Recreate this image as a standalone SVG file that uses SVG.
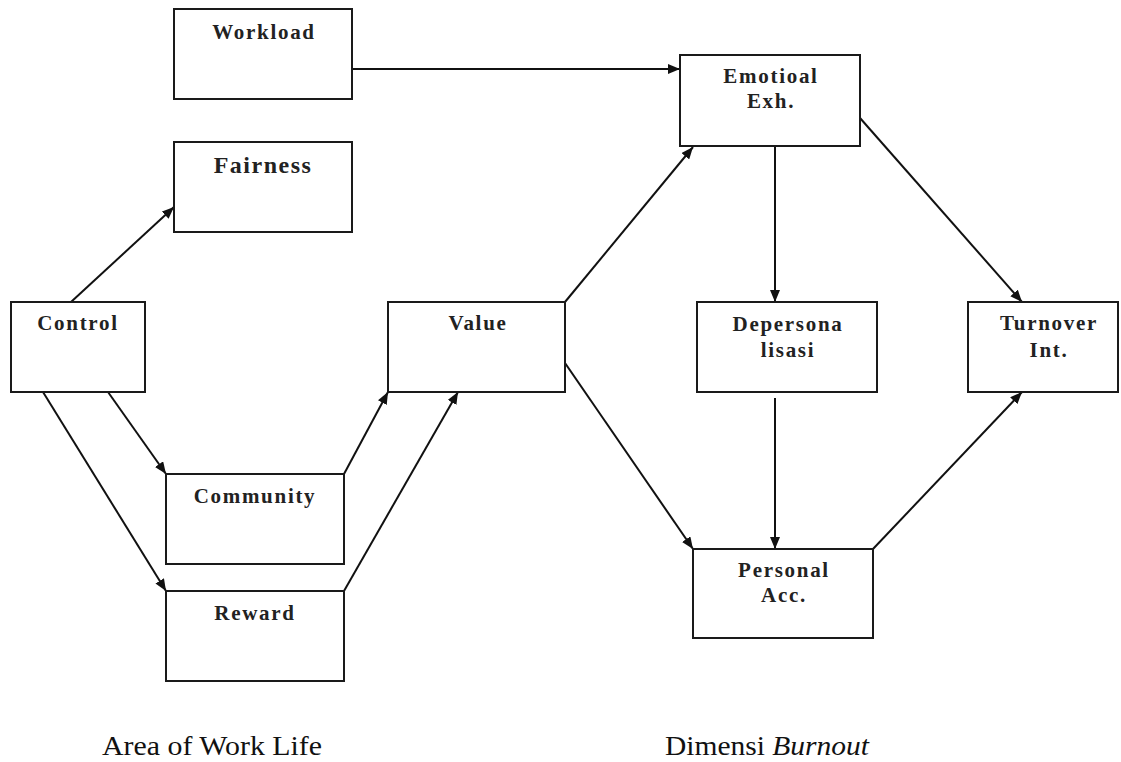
<svg xmlns="http://www.w3.org/2000/svg" width="1121" height="762" viewBox="0 0 1121 762">
<style>
.box{fill:#fff;stroke:#1a1a1a;stroke-width:2}
.lbl{font-family:"Liberation Serif","Times New Roman",serif;font-weight:bold;font-size:21px;letter-spacing:1.7px;fill:#222;text-anchor:middle}
.big{font-size:24px;letter-spacing:1.5px}
.cap{font-family:"Liberation Serif","Times New Roman",serif;font-size:28px;fill:#111}
.con{stroke:#111;stroke-width:2;fill:none;marker-end:url(#ah)}
</style>
<defs>
<marker id="ah" viewBox="0 0 12 10" refX="12" refY="5" markerWidth="12" markerHeight="10" markerUnits="userSpaceOnUse" orient="auto">
<path d="M0,0 L12,5 L0,10 Z" fill="#111"/>
</marker>
</defs>
<rect width="1121" height="762" fill="#fff"/>
<g id="connectors">
<line class="con" x1="352" y1="69" x2="680" y2="69"/>
<line class="con" x1="71" y1="302" x2="174" y2="207"/>
<line class="con" x1="108" y1="392" x2="166" y2="474"/>
<line class="con" x1="43" y1="392" x2="166" y2="591"/>
<line class="con" x1="344" y1="474" x2="388" y2="392"/>
<line class="con" x1="344" y1="591" x2="458" y2="392"/>
<line class="con" x1="565" y1="302" x2="693" y2="147"/>
<line class="con" x1="565" y1="363" x2="693" y2="549"/>
<line class="con" x1="775" y1="146" x2="775" y2="302"/>
<line class="con" x1="860" y1="118" x2="1022" y2="302"/>
<line class="con" x1="775" y1="398" x2="775" y2="549"/>
<line class="con" x1="873" y1="549" x2="1022" y2="392"/>
</g>
<g id="workload"><rect class="box" x="174" y="9" width="178" height="90"/><text class="lbl" x="264" y="39">Workload</text></g>
<g id="fairness"><rect class="box" x="174" y="142" width="178" height="90"/><text class="lbl big" x="263" y="173">Fairness</text></g>
<g id="control"><rect class="box" x="11" y="302" width="134" height="90"/><text class="lbl" x="78" y="330">Control</text></g>
<g id="community"><rect class="box" x="166" y="474" width="178" height="90"/><text class="lbl" x="255" y="503">Community</text></g>
<g id="reward"><rect class="box" x="166" y="591" width="178" height="90"/><text class="lbl" x="255" y="620">Reward</text></g>
<g id="value"><rect class="box" x="388" y="302" width="177" height="90"/><text class="lbl" x="478" y="330">Value</text></g>
<g id="emotional"><rect class="box" x="680" y="55" width="180" height="91"/><text class="lbl" x="771" y="83">Emotioal</text><text class="lbl" x="771" y="108">Exh.</text></g>
<g id="depersonalisasi"><rect class="box" x="697" y="302" width="180" height="90"/><text class="lbl" x="788" y="331">Depersona</text><text class="lbl" x="788" y="357">lisasi</text></g>
<g id="turnover"><rect class="box" x="968" y="302" width="150" height="90"/><text class="lbl" x="1049" y="330">Turnover</text><text class="lbl" x="1049" y="357">Int.</text></g>
<g id="personal"><rect class="box" x="693" y="549" width="180" height="89"/><text class="lbl" x="784" y="577">Personal</text><text class="lbl" x="784" y="602">Acc.</text></g>
<text class="cap" x="102" y="755" textLength="220" lengthAdjust="spacingAndGlyphs">Area of Work Life</text>
<text class="cap" x="665" y="755" textLength="204" lengthAdjust="spacingAndGlyphs">Dimensi <tspan font-style="italic">Burnout</tspan></text>
</svg>
